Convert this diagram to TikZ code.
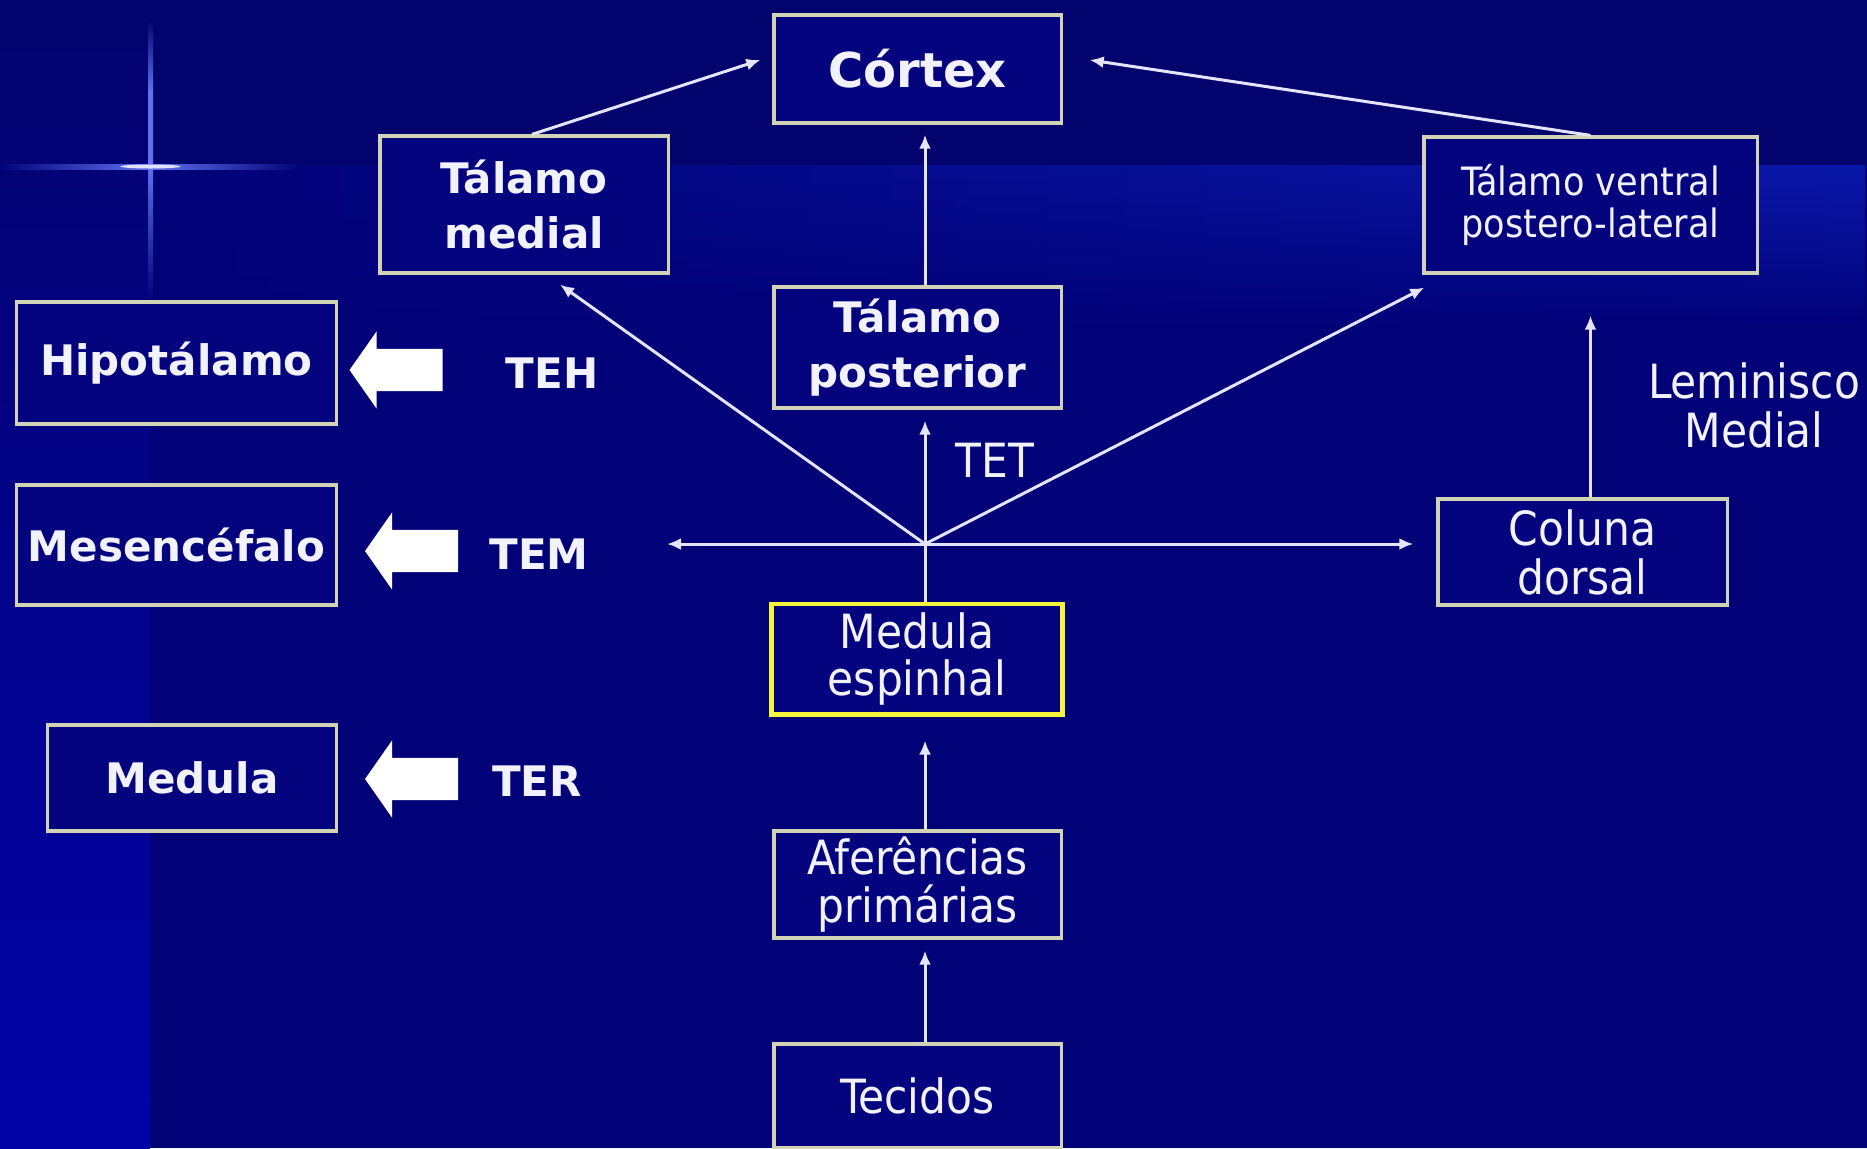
\documentclass[tikz,border=0pt]{standalone}
\usepackage{fontspec}
\setmainfont{DejaVu Sans Condensed}
\newfontfamily\widesans{DejaVu Sans}
\usepackage{tikz}
\usetikzlibrary{arrows.meta}
\usetikzlibrary{calc}
\usetikzlibrary{shapes.arrows,fadings}
\usepackage{xcolor}
\definecolor{navy}{HTML}{020278}
\definecolor{topnavy}{HTML}{03036E}
\definecolor{bandblue}{HTML}{0A18AA}
\definecolor{leftblue}{HTML}{0303A8}
\definecolor{glint}{HTML}{6070F0}
\definecolor{boxfill}{HTML}{04047E}
\definecolor{boxline}{HTML}{D2D2B4}
\definecolor{medyellow}{HTML}{F5F53C}
\definecolor{wire}{HTML}{E4E4FF}
\definecolor{lbl}{HTML}{F2F2FF}
\tikzfading[name=fadedown, top color=transparent!0, bottom color=transparent!100]

\begin{document}
\begin{tikzpicture}[x=0.01cm, y=-0.01cm,
    boxnode/.style={draw=boxline, line width=0.9pt, fill=boxfill, text=lbl, inner sep=0pt, align=center},
    heavy/.style={font=\widesans\bfseries\fontsize{11.95pt}{15.6pt}\selectfont, text=lbl},
    light/.style={font=\fontsize{13.4pt}{13.2pt}\selectfont, text=lbl},
    wirearrow/.style={draw=wire, line width=0.85pt, -{Latex[length=0.14cm, width=0.12cm]}},
    fatarrow/.style={single arrow, fill=white, draw=none, shape border rotate=180, inner sep=0pt,
      minimum height=0.93cm, single arrow head extend=0.175cm, single arrow tip angle=110}]

  \useasboundingbox (0,0) rectangle (1867,1148);
  % background
  \fill[navy] (0,0) rectangle (1867,1148);
  \fill[topnavy] (0,0) rectangle (1867,165);
  \shade[left color=navy, right color=bandblue, path fading=fadedown] (150,165) rectangle (1867,330);
  \shade[top color=topnavy, bottom color=leftblue] (0,0) rectangle (150,1148);
  \shade[top color=topnavy, bottom color=glint, middle color=glint] (148,20) rectangle (153,165);
  \shade[top color=glint, bottom color=navy] (148,165) rectangle (153,300);
  \shade[left color=navy, right color=glint] (0,164) rectangle (150,169);
  \shade[left color=glint, right color=navy] (150,164) rectangle (300,169);
  \fill[white!80!glint] (150.5,166.5) ellipse (30 and 2);

  % boxes
  \node[boxnode, minimum width=2.87cm, minimum height=1.08cm,
    font=\widesans\bfseries\fontsize{13.66pt}{16pt}\selectfont](cortex) at (917.5,69) {Córtex};
  \node[boxnode, heavy, minimum width=2.88cm, minimum height=1.37cm](tmed) at (524,204.5) {Tálamo\\medial};
  \node[boxnode, font=\fontsize{11.1pt}{11.7pt}\selectfont, minimum width=3.33cm, minimum height=1.36cm](tvpl) at (1590.5,205) {Tálamo ventral\\postero-lateral};
  \node[boxnode, heavy, minimum width=2.87cm, minimum height=1.21cm](tpost) at (917.5,347.5) {Tálamo\\posterior};
  \node[boxnode, heavy, minimum width=3.19cm, minimum height=1.22cm](hipo) at (176.5,363) {Hipotálamo};
  \node[boxnode, heavy, minimum width=3.19cm, minimum height=1.20cm](mesen) at (176.5,545) {Mesencéfalo};
  \node[boxnode, heavy, minimum width=2.88cm, minimum height=1.06cm](medula) at (192,778) {Medula};
  \node[boxnode, light, draw=medyellow, line width=1.4pt, minimum width=2.90cm, minimum height=1.10cm](medesp) at (917,659) {Medula\\espinhal};
  \node[boxnode, light, font=\fontsize{13.4pt}{13.9pt}\selectfont, minimum width=2.89cm, minimum height=1.06cm](coluna) at (1582.5,552) {Coluna\\dorsal};
  \node[boxnode, light, font=\fontsize{13.4pt}{13.7pt}\selectfont, minimum width=2.87cm, minimum height=1.07cm](afer) at (917.5,884.5) {Aferências\\primárias};
  \node[boxnode, light, minimum width=2.87cm, minimum height=1.04cm](tecidos) at (917.5,1096) {Tecidos};

  % tract labels
  \node[heavy](teh) at (552,373) {TEH};
  \node[heavy](tem) at (539,554) {TEM};
  \node[heavy](ter) at (537,781) {TER};
  \node[light](tet) at (995,460) {TET};
  \node[light, align=center, font=\fontsize{13.4pt}{13.9pt}\selectfont](lemn) at (1754,405) {Leminisco\\Medial};

  % white block arrows
  \node[fatarrow](ah) at (403.5,370) {\rule{0pt}{0.41cm}};
  \node[fatarrow](am) at (419,551) {\rule{0pt}{0.41cm}};
  \node[fatarrow](ar) at (419,779) {\rule{0pt}{0.41cm}};

  % connectors
  \coordinate(j) at (925,544);
  \coordinate(jl) at (667,544);
  \draw[wirearrow, shorten >=0.11cm] (medesp.north -| j) -- (tpost.south -| j);
  \draw[wirearrow, shorten >=0.10cm] (tpost.north -| j) -- (cortex.south -| j);
  \draw[wirearrow] (j) -- ($(tmed.south)+(36,10)$);
  \draw[wirearrow] (j) -- ($(tvpl.south west)+(2,13)$);
  \draw[wirearrow] (j) -- (jl);
  \draw[wirearrow, shorten >=0.23cm] (j) -- (j -| coluna.west);
  \draw[wirearrow] ($(tmed.north)+(8,0)$) -- ($(cortex.west)+(-12,-9)$);
  \draw[wirearrow] (tvpl.north) -- ($(cortex.east)+(27,-9)$);
  \draw[wirearrow, shorten >=0.41cm] (tvpl.south |- coluna.north) -- (tvpl.south);
  \draw[wirearrow, shorten >=0.24cm] (afer.north -| j) -- (medesp.south -| j);
  \draw[wirearrow, shorten >=0.11cm] (tecidos.north -| j) -- (afer.south -| j);

\end{tikzpicture}
\end{document}
